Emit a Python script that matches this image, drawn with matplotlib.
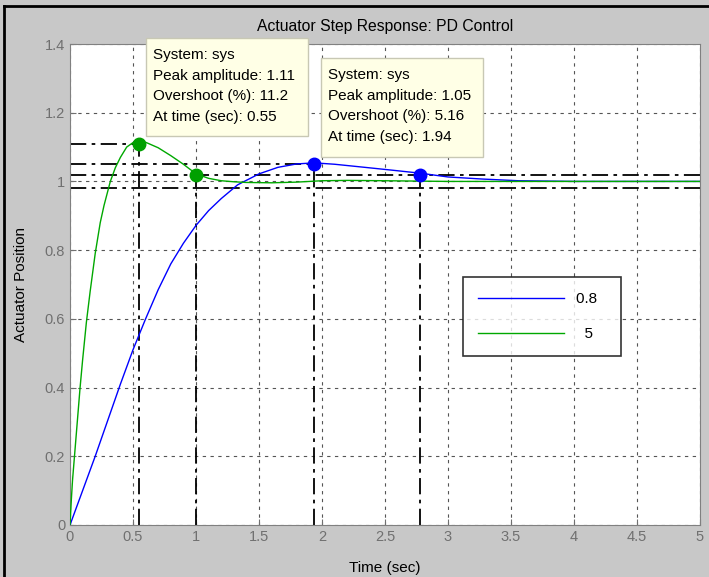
import numpy as np
import matplotlib.pyplot as plt
from matplotlib.lines import Line2D
from matplotlib.patches import Rectangle

plt.rcParams['font.family'] = ['Liberation Sans', 'DejaVu Sans']

# step response
t_green = [0, 0.01, 0.02, 0.04, 0.06, 0.08, 0.10, 0.13, 0.16, 0.20, 0.24, 0.27, 0.32, 0.36,
           0.40, 0.45, 0.50, 0.55, 0.60, 0.70, 0.80, 0.90, 1.0, 1.1, 1.2, 1.3, 1.4, 1.6, 1.8,
           2.0, 2.2, 2.5, 3.0, 3.5, 4.0, 4.5, 5.0]
y_green = [0, 0.07, 0.13, 0.22, 0.31, 0.40, 0.48, 0.59, 0.68, 0.79, 0.88, 0.93, 1.0, 1.04,
           1.07, 1.10, 1.113, 1.116, 1.114, 1.098, 1.075, 1.05, 1.022, 1.009, 1.002, 0.999,
           0.997, 0.996, 0.998, 1.002, 1.003, 1.002, 1.0, 1.0, 1.0, 1.0, 1.0]
t_blue = [0, 0.1, 0.2, 0.3, 0.4, 0.5, 0.6, 0.7, 0.8, 0.9, 1.0, 1.1, 1.2, 1.33, 1.5, 1.65,
          1.8, 1.94, 2.1, 2.34, 2.55, 2.78, 3.0, 3.27, 3.56, 4.0, 4.5, 5.0]
y_blue = [0, 0.10, 0.20, 0.305, 0.41, 0.51, 0.60, 0.685, 0.76, 0.82, 0.872, 0.915, 0.95,
          0.99, 1.022, 1.041, 1.051, 1.054, 1.05, 1.041, 1.033, 1.024, 1.013, 1.007, 1.002,
          1.0, 1.0, 1.0]

legend_labels = ['0.8  ', '  5  ']
peak_green = (0.55, 1.11)
settle_green = (1.0, 1.02)
peak_blue = (1.94, 1.05)
settle_blue = (2.78, 1.02)
band = [1.02, 0.98]

box_green = ['System: sys', 'Peak amplitude: 1.11', 'Overshoot (%): 11.2', 'At time (sec): 0.55']
box_blue = ['System: sys', 'Peak amplitude: 1.05', 'Overshoot (%): 5.16', 'At time (sec): 1.94']

fig = plt.figure(figsize=(7.09, 5.77), dpi=100, facecolor='#c8c8c8')
ax = fig.add_axes([70/709, 52/577, 630/709, 481/577])

dashdot = (0, (9, 3, 2, 3))
ref = dict(color='black', lw=1.3, linestyle=dashdot, zorder=2)
for y in band:
    ax.plot([0, 5], [y, y], **ref)
ax.plot([0, peak_green[0]], [peak_green[1]] * 2, **ref)
ax.plot([0, peak_blue[0]], [peak_blue[1]] * 2, **ref)
for px, py in [peak_green, settle_green, peak_blue, settle_blue]:
    ax.plot([px, px], [0, py], **ref)

l1, = ax.plot(t_blue, y_blue, color='#0000ff', lw=1, zorder=3)
l2, = ax.plot(t_green, y_green, color='#00a800', lw=1, zorder=3)

ax.plot(*peak_green, 'o', color='#00a000', ms=9, zorder=4)
ax.plot(*settle_green, 'o', color='#00a000', ms=9, zorder=4)
ax.plot(*peak_blue, 'o', color='#0000ff', ms=9, zorder=4)
ax.plot(*settle_blue, 'o', color='#0000ff', ms=9, zorder=4)

ax.set_xlim(0, 5)
ax.set_ylim(0, 1.4)
ax.set_xticks(np.arange(0, 5.01, 0.5))
ax.set_xticklabels(['0', '0.5', '1', '1.5', '2', '2.5', '3', '3.5', '4', '4.5', '5'])
ax.set_yticks(np.arange(0, 1.41, 0.2))
ax.set_yticklabels(['0', '0.2', '0.4', '0.6', '0.8', '1', '1.2', '1.4'])
ax.tick_params(direction='in', length=4, colors='#707070', labelsize=10.5, labelcolor='#707070')
ax.grid(True, color='#555555', linestyle=(0, (3, 4)), lw=0.8)
for s in ax.spines.values():
    s.set_color('#808080')

ax.set_title('Actuator Step Response: PD Control', fontsize=11.3, pad=9)
ax.set_xlabel('Time (sec)', fontsize=11, labelpad=12)
ax.set_ylabel('Actuator Position', fontsize=11, labelpad=12)

leg = ax.legend([l1, l2], legend_labels, loc='upper left', bbox_to_anchor=(393/630, 1 - 233/481),
                borderaxespad=0, frameon=True, fancybox=False, edgecolor='black', fontsize=11,
                handlelength=5.6, borderpad=1.0, labelspacing=1.35, handletextpad=0.8)
leg.get_frame().set_linewidth(1.2)

# data tip boxes
for x0, y0, x1, y1 in [(0.603, 1.132, 1.889, 1.417), (1.992, 1.071, 3.278, 1.359)]:
    ax.add_patch(Rectangle((x0, y0), x1 - x0, y1 - y0, fc='#ffffe6', ec='#c8c8b4', lw=1,
                           zorder=5, clip_on=False))
ax.text(0.659, 1.388, '\n'.join(box_green), fontsize=11, va='top', ha='left',
        linespacing=1.59, zorder=6)
ax.text(2.048, 1.33, '\n'.join(box_blue), fontsize=11, va='top', ha='left',
        linespacing=1.59, zorder=6)

fig.add_artist(Line2D([4/709, 1], [1 - 6/577] * 2, color='black', lw=2, transform=fig.transFigure))
fig.add_artist(Line2D([4/709] * 2, [0, 1 - 6/577], color='black', lw=2, transform=fig.transFigure))

fig.savefig('out.png', dpi=100, facecolor=fig.get_facecolor())
